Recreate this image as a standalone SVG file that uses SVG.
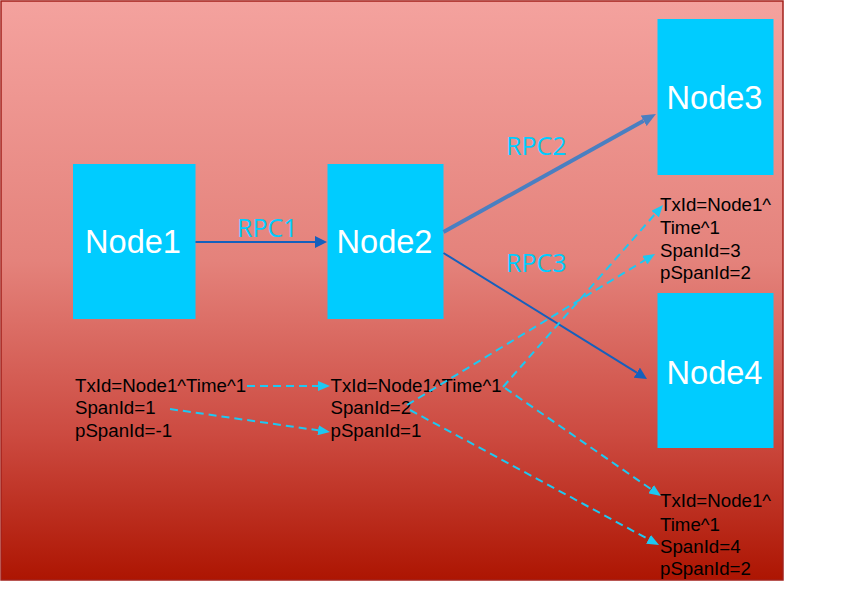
<svg xmlns="http://www.w3.org/2000/svg" width="852" height="589" viewBox="0 0 852 589">
<defs>
  <linearGradient id="bg" x1="0" y1="0" x2="0" y2="1">
    <stop offset="0" stop-color="#f4a29e"/>
    <stop offset="0.45" stop-color="#e4827b"/>
    <stop offset="0.75" stop-color="#cc4a40"/>
    <stop offset="1" stop-color="#ad1502"/>
  </linearGradient>
  <marker id="ab" markerUnits="userSpaceOnUse" markerWidth="12" markerHeight="12" viewBox="0 0 12 12" refX="0" refY="6" orient="auto">
    <path d="M0,0 L12,6 L0,12 z" fill="#1560bd"/>
  </marker>
  <marker id="ab2" markerUnits="userSpaceOnUse" markerWidth="14" markerHeight="12" viewBox="0 0 14 12" refX="0" refY="6" orient="auto">
    <path d="M0,0 L14,6 L0,12 z" fill="#4a7fc1"/>
  </marker>
  <marker id="ac" markerUnits="userSpaceOnUse" markerWidth="12" markerHeight="10" viewBox="0 0 12 10" refX="0" refY="5" orient="auto">
    <path d="M0,0 L12,5 L0,10 z" fill="#1ec8f2"/>
  </marker>
</defs>
<style>
  .node { fill: #00ccff; }
  .nl { font-family: "Liberation Sans", Arial, sans-serif; font-size: 32.6px; fill: #ffffff; text-anchor: middle; }
  .rpc { font-family: "Open Sans", "Noto Sans", sans-serif; font-size: 25px; fill: #00ccff; }
  .info { font-family: "Liberation Sans", Arial, sans-serif; font-size: 18.7px; fill: #000000; }
  .solid { stroke: #1560bd; stroke-width: 2; fill: none; }
  .thick { stroke: #4a7fc1; stroke-width: 4; fill: none; }
  .dash { stroke: #1ec8f2; stroke-width: 2; stroke-dasharray: 8 5; fill: none; }
</style>
<rect x="1" y="1" width="782" height="579" fill="url(#bg)" stroke="#a3201b" stroke-width="1.5"/>

<g id="node1">
  <rect class="node" x="73" y="164" width="122.5" height="155"/>
  <text class="nl" x="133" y="253">Node1</text>
</g>
<g id="node2">
  <rect class="node" x="327.5" y="164" width="116" height="155"/>
  <text class="nl" x="384.5" y="253">Node2</text>
</g>
<g id="node3">
  <rect class="node" x="657.5" y="19" width="116" height="156"/>
  <text class="nl" x="714.5" y="109">Node3</text>
</g>
<g id="node4">
  <rect class="node" x="657.5" y="293" width="116" height="155"/>
  <text class="nl" x="714.5" y="383.5">Node4</text>
</g>

<g id="labels">
  <text class="rpc" x="237" y="236.5">RPC1</text>
  <text class="rpc" x="506" y="155">RPC2</text>
  <text class="rpc" x="506" y="271.5">RPC3</text>
</g>

<g id="info-left">
  <text class="info" x="75" y="391.7">TxId=Node1^Time^1</text>
  <text class="info" x="75" y="414.3">SpanId=1</text>
  <text class="info" x="75" y="436.7">pSpanId=-1</text>
</g>
<g id="info-mid">
  <text class="info" x="330.5" y="391.7">TxId=Node1^Time^1</text>
  <text class="info" x="330.5" y="414.3">SpanId=2</text>
  <text class="info" x="330.5" y="436.7">pSpanId=1</text>
</g>
<g id="info-node3">
  <text class="info" x="660" y="211">TxId=Node1^</text>
  <text class="info" x="660" y="234">Time^1</text>
  <text class="info" x="660" y="256.7">SpanId=3</text>
  <text class="info" x="660" y="279">pSpanId=2</text>
</g>
<g id="info-node4">
  <text class="info" x="660" y="506.7">TxId=Node1^</text>
  <text class="info" x="660" y="530.5">Time^1</text>
  <text class="info" x="660" y="552.7">SpanId=4</text>
  <text class="info" x="660" y="575">pSpanId=2</text>
</g>

<g id="connectors">
  <line class="solid" x1="195.5" y1="242" x2="315" y2="242" marker-end="url(#ab)"/>
  <line class="thick" x1="443.5" y1="232" x2="643.7" y2="120.8" marker-end="url(#ab2)"/>
  <line class="solid" x1="443.5" y1="253" x2="636.8" y2="372.7" marker-end="url(#ab)"/>
  <line class="dash" x1="247" y1="386" x2="318" y2="386" marker-end="url(#ac)"/>
  <line class="dash" x1="170" y1="409" x2="318.1" y2="430.3" marker-end="url(#ac)"/>
  <line class="dash" x1="407" y1="405" x2="644.8" y2="260.2" marker-end="url(#ac)"/>
  <line class="dash" x1="503" y1="387" x2="655.1" y2="214" marker-end="url(#ac)"/>
  <line class="dash" x1="505" y1="388" x2="651.1" y2="489.2" marker-end="url(#ac)"/>
  <line class="dash" x1="410" y1="410" x2="648.5" y2="539.3" marker-end="url(#ac)"/>
</g>
</svg>
